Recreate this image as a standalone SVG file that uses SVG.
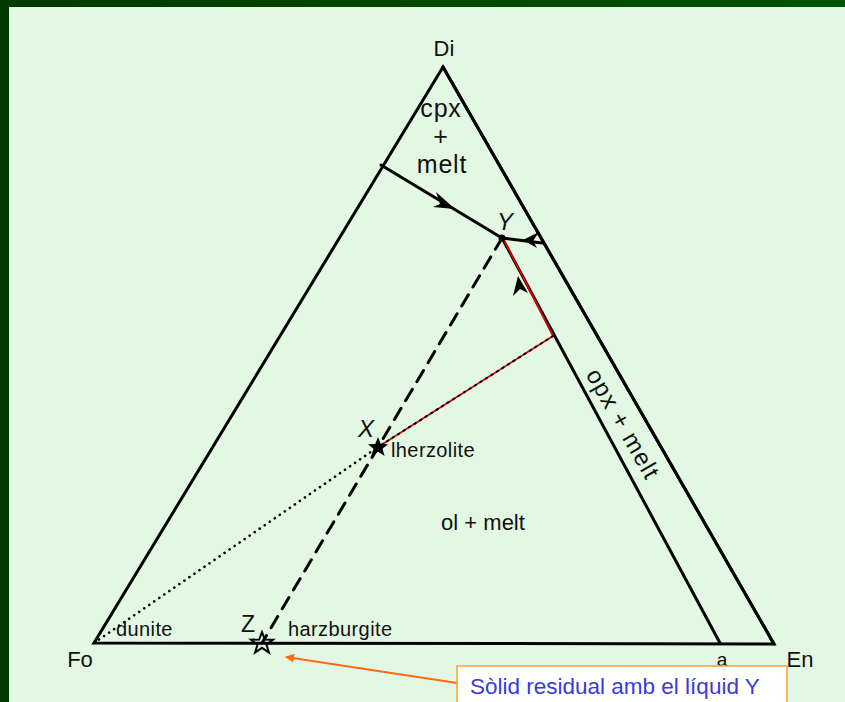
<svg xmlns="http://www.w3.org/2000/svg" width="845" height="702" viewBox="0 0 845 702">
<defs>
<linearGradient id="bg" x1="0" y1="0" x2="1" y2="0">
<stop offset="0" stop-color="#003a00"/>
<stop offset="1" stop-color="#005400"/>
</linearGradient>
<marker id="oarrow" viewBox="0 0 10 10" refX="9" refY="5" markerWidth="9" markerHeight="9" orient="auto-start-reverse" markerUnits="userSpaceOnUse">
<path d="M0,0 L10,5 L0,10 z" fill="#ff6a13"/>
</marker>
</defs>
<style>
.ln{stroke:#000;stroke-width:3;fill:none;stroke-linecap:round}
.lbl{font-family:"Liberation Sans",Arial,sans-serif;fill:#111}
.big{font-size:22px}
.reg{font-size:25px;letter-spacing:0.8px}
.mid{font-size:20px;letter-spacing:0.4px}
.ah{fill:#000}
</style>
<rect x="0" y="0" width="845" height="702" fill="url(#bg)"/>
<rect x="9" y="7" width="836" height="695" fill="#e3f8e3"/>

<g id="triangle">
<polygon points="443,67 94,643 774,644" class="ln" stroke-linejoin="miter"/>
</g>

<g id="connectors">
<line x1="381" y1="165" x2="502" y2="238" class="ln"/>
<path class="ah" d="M455,209 L436,192 L440,204 L433,207 Z"/>
<line x1="542" y1="243" x2="502" y2="238" class="ln"/>
<path class="ah" d="M523,240 L539,232 L533,241 L537,248 Z"/>
<line x1="502" y1="238" x2="720" y2="643" class="ln"/>
<path class="ah" d="M518,276 L513,296 L520,289 L528,293 Z"/>
<line x1="503" y1="238" x2="553" y2="336" stroke="#e00000" stroke-width="1.8"/>
<line x1="553" y1="336" x2="378" y2="447" stroke="#e00000" stroke-width="1.8"/>
<line x1="553" y1="336" x2="378" y2="447" stroke="#000" stroke-width="2" stroke-dasharray="1.5 5" stroke-linecap="round"/>
<line x1="502" y1="238" x2="262" y2="643" class="ln" stroke-dasharray="13 9" stroke-linecap="butt"/>
<line x1="94" y1="643" x2="378" y2="447" stroke="#000" stroke-width="2.6" stroke-dasharray="0.1 6" stroke-linecap="round"/>
<line x1="457" y1="683" x2="286" y2="657" stroke="#ff6a13" stroke-width="2" marker-end="url(#oarrow)"/>
</g>

<g id="strip">
<line x1="443" y1="67" x2="774" y2="644" class="ln"/>
</g>

<g id="Y">
<circle cx="502" cy="238" r="3.5" fill="#000"/>
<text x="505" y="230" class="lbl" font-size="24" font-style="italic" text-anchor="middle">Y</text>
</g>

<g id="X">
<polygon points="378,437 380.8,444 388,444.2 382.5,448.8 384.6,456 378,451.8 371.4,456 373.5,448.8 368,444.2 375.2,444" fill="#000"/>
<text x="366" y="437" class="lbl" font-size="24" font-style="italic" text-anchor="middle">X</text>
<text x="391" y="457" class="lbl mid">lherzolite</text>
</g>

<g id="Z">
<polygon points="262,632 264.8,639.5 273,639.7 266.5,644.6 268.9,652.5 262,647.8 255.1,652.5 257.5,644.6 251,639.7 259.2,639.5" fill="none" stroke="#000" stroke-width="2"/>
<text x="248" y="632" class="lbl" font-size="23" text-anchor="middle">Z</text>
<text x="288" y="636" class="lbl mid">harzburgite</text>
</g>

<g id="dunite">
<text x="116" y="636" class="lbl mid">dunite</text>
</g>

<g id="Di"><text x="444" y="56" class="lbl big" text-anchor="middle">Di</text></g>
<g id="Fo"><text x="80" y="667" class="lbl big" text-anchor="middle">Fo</text></g>
<g id="En"><text x="800" y="667" class="lbl big" text-anchor="middle">En</text></g>
<g id="a"><text x="722" y="666" class="lbl" font-size="19" text-anchor="middle">a</text></g>

<g id="cpx">
<text x="441" y="117" class="lbl reg" text-anchor="middle">cpx</text>
<text x="441" y="145" class="lbl reg" text-anchor="middle">+</text>
<text x="442" y="173" class="lbl reg" text-anchor="middle">melt</text>
</g>

<g id="ol"><text x="483" y="530" class="lbl big" text-anchor="middle">ol + melt</text></g>

<g id="opx"><text x="0" y="0" class="lbl" font-size="24" letter-spacing="1.2" text-anchor="middle" transform="translate(616,428) rotate(60.2)">opx + melt</text></g>

<g id="callout">
<rect x="457" y="666" width="330" height="40" fill="#ffffff" stroke="#ffa030" stroke-width="1.5"/>
<text x="470" y="694" font-family="Liberation Sans,Arial,sans-serif" font-size="22.5" fill="#3a3adc">Sòlid residual amb el líquid Y</text>
</g>
</svg>
